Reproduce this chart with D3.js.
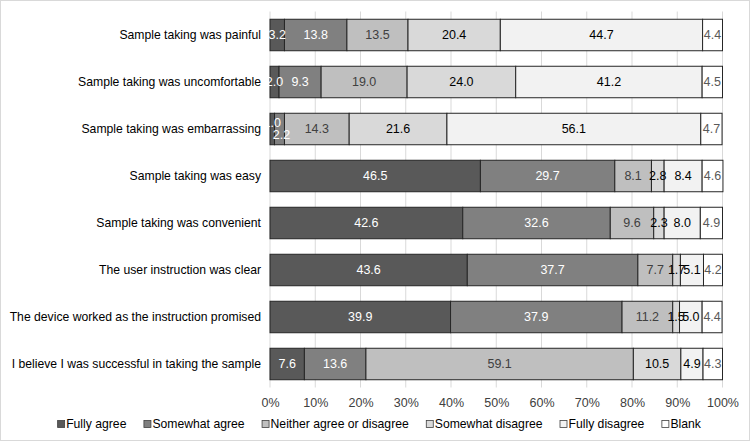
<!DOCTYPE html>
<html>
<head>
<meta charset="utf-8">
<script src="https://cdn.jsdelivr.net/npm/d3@7/dist/d3.min.js"></script>
<style>
body{margin:0;background:#fff;}
svg{display:block;font-family:"Liberation Sans",Arial,sans-serif;}
</style>
</head>
<body>
<svg id="chart" width="750" height="441"></svg>
<script>
const categories = [
  "Sample taking was painful",
  "Sample taking was uncomfortable",
  "Sample taking was embarrassing",
  "Sample taking was easy",
  "Sample taking was convenient",
  "The user instruction was clear",
  "The device worked as the instruction promised",
  "I believe I was successful in taking the sample"
];
const seriesNames = ["Fully agree","Somewhat agree","Neither agree or disagree","Somewhat disagree","Fully disagree","Blank"];
const fullyAgree      = [3.2, 2.0, 1.0, 46.5, 42.6, 43.6, 39.9, 7.6];
const somewhatAgree   = [13.8, 9.3, 2.2, 29.7, 32.6, 37.7, 37.9, 13.6];
const neither         = [13.5, 19.0, 14.3, 8.1, 9.6, 7.7, 11.2, 59.1];
const somewhatDisagree= [20.4, 24.0, 21.6, 2.8, 2.3, 1.7, 1.5, 10.5];
const fullyDisagree   = [44.7, 41.2, 56.1, 8.4, 8.0, 5.1, 5.0, 4.9];
const blank           = [4.4, 4.5, 4.7, 4.6, 4.9, 4.2, 4.4, 4.3];
const tickValues = [0,10,20,30,40,50,60,70,80,90,100];

const seriesValues = [fullyAgree, somewhatAgree, neither, somewhatDisagree, fullyDisagree, blank];
const fills = ["#595959","#808080","#bfbfbf","#d9d9d9","#f2f2f2","#ffffff"];
const textColors = ["#ffffff","#ffffff","#404040","#000000","#000000","#595959"];
const FS = 12.2;

const svg = d3.select("#chart");
svg.append("rect").attr("x",0.5).attr("y",0.5).attr("width",749).attr("height",440)
  .attr("fill","#fff").attr("stroke","#d9d9d9");

const x = d3.scaleLinear().domain([0,100]).range([270,722.5]);
const y = d3.scaleBand().domain(categories).range([11.5,387.5]).paddingInner(0.33).paddingOuter(0.165);

// gridlines
svg.append("g").selectAll("line").data(tickValues).join("line")
  .attr("x1",d=>x(d)).attr("x2",d=>x(d)).attr("y1",11.5).attr("y2",387.5)
  .attr("stroke","#d9d9d9").attr("stroke-width",1);

// axis labels
const xAxis = d3.axisBottom(x).tickValues(tickValues).tickFormat(d=>d+"%").tickSize(0).tickPadding(9);
const gx = svg.append("g").attr("transform","translate(0,389)").call(xAxis);
gx.select(".domain").remove();
gx.selectAll("text").attr("font-size",12.5).attr("fill","#404040").style("font-family","Liberation Sans, Arial, sans-serif");

// category labels
const yAxis = d3.axisLeft(y).tickSize(0).tickPadding(9);
const gy = svg.append("g").attr("transform","translate(270,0)").call(yAxis);
gy.select(".domain").remove();
gy.selectAll("text").attr("font-size",FS).attr("fill","#000").style("font-family","Liberation Sans, Arial, sans-serif");

// stacked data
const rows = categories.map((c,i)=>{
  let acc=0; const segs=[];
  seriesValues.forEach((arr,s)=>{ segs.push({cat:c,row:i,s,v:arr[i],x0:acc,x1:acc+arr[i]}); acc+=arr[i]; });
  return segs;
}).flat();

svg.append("g").selectAll("rect").data(rows).join("rect")
  .attr("x",d=>x(d.x0)).attr("y",d=>y(d.cat))
  .attr("width",d=>x(d.x1)-x(d.x0)).attr("height",y.bandwidth())
  .attr("fill",d=>fills[d.s]).attr("stroke","#262626").attr("stroke-width",1);

// nudges for overlapping labels (row 3, first two)
function nudge(d){ if(d.row===2 && d.s===0) return -6; if(d.row===2 && d.s===1) return 6; return 0; }
svg.append("g").selectAll("text").data(rows).join("text")
  .attr("x",d=>x((d.x0+d.x1)/2) + (d.row===2 && d.s===1 ? 2 : 0))
  .attr("y",d=>y(d.cat)+y.bandwidth()/2+nudge(d))
  .attr("dy","0.35em").attr("text-anchor","middle")
  .attr("font-size",12.5).attr("fill",d=>textColors[d.s])
  .text(d=>d.v.toFixed(1));

// legend
const lg = svg.append("g");
let lx = 0;
const gap = 17;
seriesNames.forEach((n,i)=>{
  const g = lg.append("g");
  g.append("rect").attr("x",0.5).attr("y",-3.5).attr("width",7).attr("height",7)
    .attr("fill",fills[i]).attr("stroke","#404040").attr("stroke-width",0.8);
  const t = g.append("text").attr("x",9).attr("dy","0.35em").attr("font-size",FS).attr("fill","#000").text(n);
  const w = 9 + t.node().getComputedTextLength();
  g.attr("transform",`translate(${lx},0)`);
  lx += w + gap;
});
const totalW = lx - gap;
lg.attr("transform",`translate(${379 - totalW/2},424)`);
</script>
</body>
</html>
